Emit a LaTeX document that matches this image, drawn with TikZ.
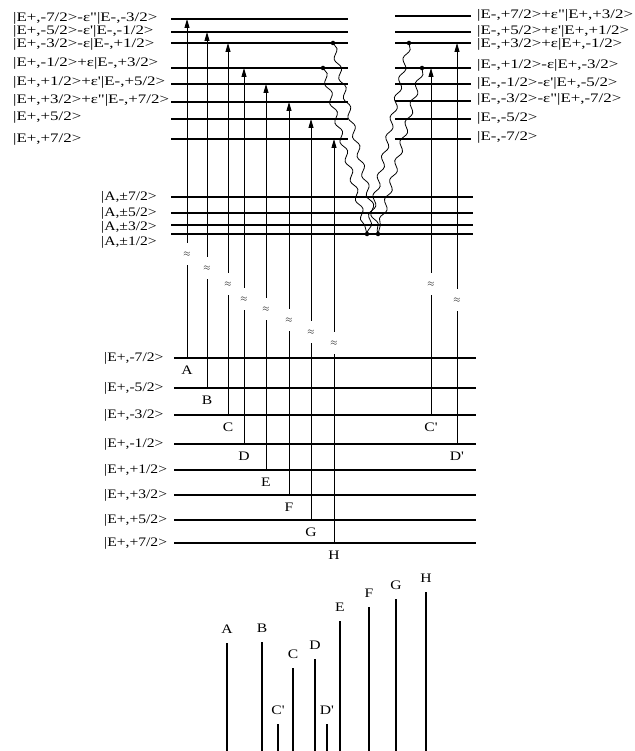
\documentclass[tikz,border=0pt]{standalone}
\usepackage{fontspec}
\setmainfont{Liberation Serif}[Ligatures=TeXOff, FakeStretch=1.2]
\newfontfamily\widefont{Liberation Serif}[Ligatures=TeXOff, FakeStretch=1.3]
\usepackage{tikz}
\usetikzlibrary{positioning, arrows.meta, decorations.pathmorphing}

\begin{document}
\begin{tikzpicture}[x=1pt, y=-1pt,
    every node/.style={font=\fontsize{13}{15}\selectfont, inner sep=0pt},
    statelab/.style={anchor=west, font=\widefont\fontsize{13}{15}\selectfont, text height=8.5pt, text depth=2pt},
    level/.style={line width=1.3pt},
    trans/.style={line width=0.8pt},
    up/.style={trans, -{Triangle[length=9pt, width=5pt]}},
    brk/.style={font=\fontsize{9}{9}\selectfont, minimum height=22pt},
    wavy/.style={line width=0.8pt, decorate, decoration={snake, segment length=20pt, amplitude=2.6pt}},
    dot/.style={circle, fill, minimum size=4.5pt},
    stick/.style={line width=1.6pt}]

    \useasboundingbox (0,0) rectangle (634,751);

    % excited levels, left half
    \foreach \y/\ly/\txt [count=\i] in {19/18/{|E+,-7/2>-ε"|E-,-3/2>}, 32/31/{|E+,-5/2>-ε'|E-,-1/2>},
        43/44/{|E+,-3/2>-ε|E-,+1/2>}, 68/63/{|E+,-1/2>+ε|E-,+3/2>}, 84/82/{|E+,+1/2>+ε'|E-,+5/2>},
        102/100/{|E+,+3/2>+ε"|E-,+7/2>}, 119/117/{|E+,+5/2>}, 139/139/{|E+,+7/2>}} {
        \draw[level] (171,\y) -- (348,\y);
        \node[statelab] (ul\i) at (13,\ly) {\txt};
    }

    % excited levels, right half
    \foreach \y/\ly/\txt [count=\i] in {16/15/{|E-,+7/2>+ε"|E+,+3/2>}, 32/31/{|E-,+5/2>+ε'|E+,+1/2>},
        43/44/{|E-,+3/2>+ε|E+,-1/2>}, 68/65/{|E-,+1/2>-ε|E+,-3/2>}, 84/83/{|E-,-1/2>-ε'|E+,-5/2>},
        101/99/{|E-,-3/2>-ε"|E+,-7/2>}, 119/118/{|E-,-5/2>}, 139/137/{|E-,-7/2>}} {
        \draw[level] (395,\y) -- (471,\y);
        \node[statelab] (ur\i) at (477,\ly) {\txt};
    }

    % A levels
    \foreach \y/\ly/\txt [count=\i] in {197/197/{|A,±7/2>}, 213/213/{|A,±5/2>},
        225/227/{|A,±3/2>}, 234/242/{|A,±1/2>}} {
        \draw[level] (171,\y) -- (473,\y);
        \node[anchor=west, text height=8.5pt, text depth=2pt] (al\i) at (101,\ly) {\txt};
    }

    % ground levels
    \foreach \y/\txt [count=\i] in {358/{|E+,-7/2>}, 388/{|E+,-5/2>}, 415/{|E+,-3/2>}, 444/{|E+,-1/2>},
        470/{|E+,+1/2>}, 495/{|E+,+3/2>}, 520/{|E+,+5/2>}, 543/{|E+,+7/2>}} {
        \draw[level] (174,\y) -- (476,\y);
        \node[anchor=west] (gl\i) at (104,\y) {\txt};
    }

    % transitions with breaks
    \foreach \n/\txt/\x/\ylo/\yhi/\yg in {A/A/187/358/19/254, B/B/207/388/32/268, C/C/228/415/43/284,
        D/D/244/444/68/299, E/E/266/470/84/309, F/F/289/495/102/320, G/G/311/520/119/332,
        H/H/334/543/139/343, Cp/C'/431/415/68/284, Dp/D'/457/444/43/300} {
        \coordinate (\n lo) at (\x,\ylo);
        \coordinate (\n hi) at (\x,\yhi);
        \node[brk] (\n brk) at (\x,\yg) {$\approx$};
        \draw[trans] (\n lo) -- (\n brk.south);
        \draw[up] (\n brk.north) -- (\n hi);
        \node[below=8pt of \n lo] (\n lab) {\txt};
    }

    % relaxation
    \node[dot] (lo) at (333,43) {};
    \node[dot] (li) at (323,68) {};
    \node[dot] (ro) at (409,43) {};
    \node[dot] (ri) at (422,68) {};
    \node[dot] (bl) at (367,234) {};
    \node[dot] (br) at (378,234) {};
    \draw[wavy] (lo.center) -- (br.center);
    \draw[wavy] (li.center) -- (bl.center);
    \draw[wavy] (ro.center) -- (bl.center);
    \draw[wavy] (ri.center) -- (br.center);

    % stick spectrum
    \foreach \n/\txt/\x/\h in {sA/A/227/643, sB/B/262/642, sCp/C'/278/724, sC/C/293/668, sD/D/315/659,
        sDp/D'/327/724, sE/E/340/621, sF/F/369/607, sG/G/396/599, sH/H/426/592} {
        \coordinate (\n) at (\x,751);
        \coordinate (\n top) at (\x,\h);
        \draw[stick] (\n) -- (\n top);
        \node[above=9pt of \n top] (\n lab) {\txt};
    }
\end{tikzpicture}
\end{document}
